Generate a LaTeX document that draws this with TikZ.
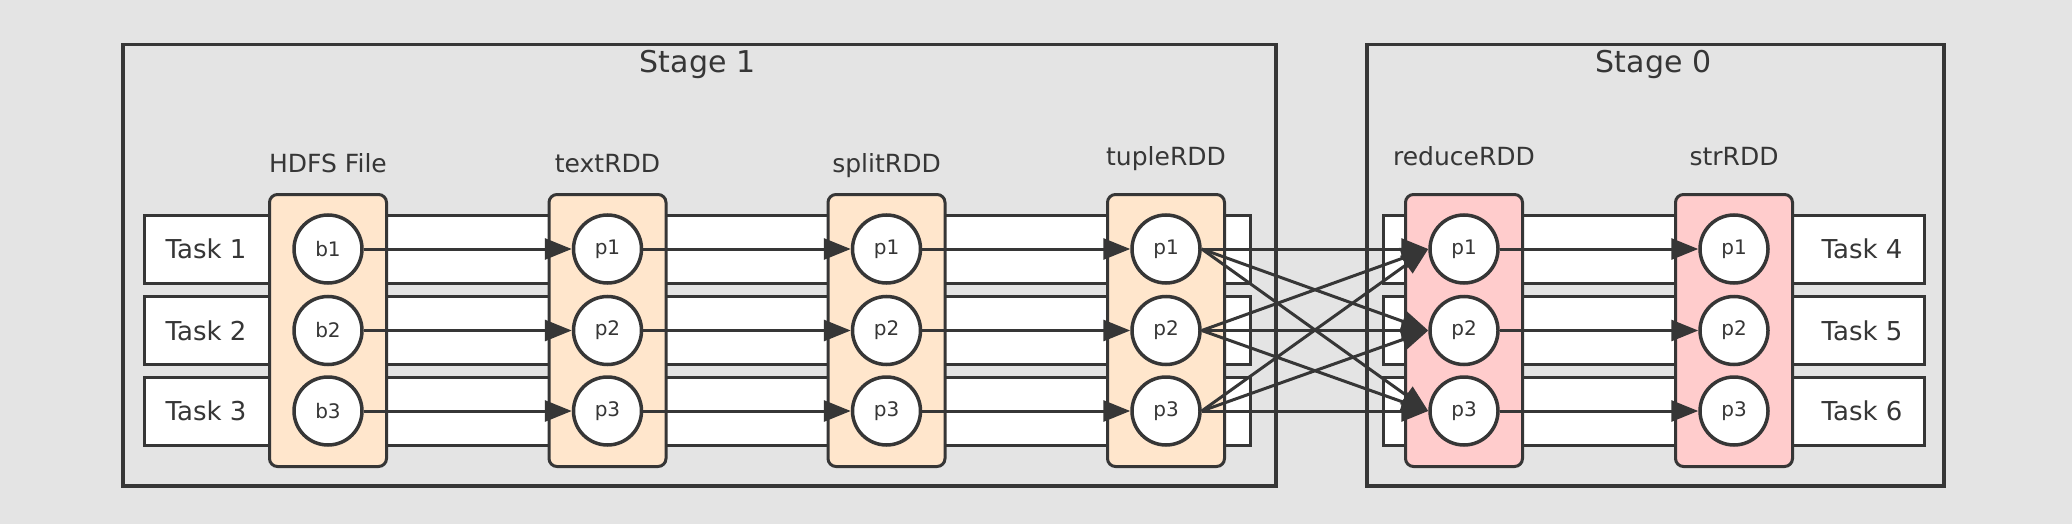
\documentclass[tikz,border=0pt]{standalone}
\usepackage{fontspec}
\setmainfont{DejaVu Sans}
\usetikzlibrary{arrows.meta}
\definecolor{bg}{HTML}{E4E4E4}
\definecolor{ln}{HTML}{363636}
\definecolor{peach}{HTML}{FFE6CC}
\definecolor{rose}{HTML}{FFCCCC}
\begin{document}
\begin{tikzpicture}[x=1pt,y=-1pt,
  stagebox/.style={draw=ln, line width=3.5pt, minimum height=441pt, inner sep=0pt, anchor=north west},
  rowbox/.style={draw=ln, fill=white, line width=3pt, minimum height=68pt, inner sep=0pt},
  rddbox/.style={draw=ln, line width=3pt, rounded corners=8pt, minimum width=117pt, minimum height=272pt, inner sep=0pt},
  part/.style={circle, draw=ln, fill=white, line width=3.5pt, minimum size=68pt, inner sep=0pt, font=\fontsize{20}{24}\selectfont, text=ln},
  title/.style={anchor=base, text=ln, font=\fontsize{30}{36}\selectfont},
  rddlabel/.style={anchor=base, text=ln, font=\fontsize{25}{30}\selectfont},
  tasklabel/.style={text=ln, font=\fontsize{26}{30}\selectfont},
  flow/.style={draw=ln, line width=3pt, -{Triangle[length=27pt,width=21pt]}}]
\fill[bg] (0,0) rectangle (2072,524);
\useasboundingbox (0,0) rectangle (2072,524);

% stages
\node[stagebox, minimum width=1153pt] (s1) at (121,43) {};
\node[stagebox, minimum width=577pt] (s0) at (1365,43) {};
\node[title] (s1t) at (697.5,73) {Stage 1};
\node[title] (s0t) at (1653.5,73) {Stage 0};

% task rows
\foreach \r/\y in {1/249,2/330.5,3/411}{
  \node[rowbox, minimum width=1105.5pt] (rowA\r) at (697.25,\y) {};
  \node[rowbox, minimum width=541.5pt] (rowB\r) at (1653.75,\y) {};
}
\node[tasklabel] (t1) at (206,249) {Task 1};
\node[tasklabel] (t2) at (206,330.5) {Task 2};
\node[tasklabel] (t3) at (206,411) {Task 3};
\node[tasklabel] (t4) at (1862,249) {Task 4};
\node[tasklabel] (t5) at (1862,330.5) {Task 5};
\node[tasklabel] (t6) at (1862,411) {Task 6};

% RDD boxes
\foreach \c/\x/\col in {0/328/peach,1/607.5/peach,2/886.5/peach,3/1166/peach,4/1464/rose,5/1734/rose}{
  \node[rddbox, fill=\col] (box\c) at (\x,330.5) {};
}
\node[rddlabel] (l0) at (328,172) {HDFS File};
\node[rddlabel] (l1) at (607.5,172) {textRDD};
\node[rddlabel] (l2) at (886.5,172) {splitRDD};
\node[rddlabel] (l3) at (1166,165) {tupleRDD};
\node[rddlabel] (l4) at (1464,165) {reduceRDD};
\node[rddlabel] (l5) at (1734,165) {strRDD};

% partitions
\foreach \r/\y in {1/249,2/330.5,3/411}{
  \node[part] (c0r\r) at (328,\y) {b\r};
  \foreach \c/\x in {1/607.5,2/886.5,3/1166,4/1464,5/1734}{
    \node[part] (c\c r\r) at (\x,\y) {p\r};
  }
}

% narrow dependencies
\foreach \c/\d in {0/1,1/2,2/3,4/5}{
  \foreach \r in {1,2,3}{
    \draw[flow] (c\c r\r.east) -- (c\d r\r.west);
  }
}
% shuffle
\foreach \r in {1,2,3}{
  \foreach \s in {1,2,3}{
    \draw[flow] (c3r\r.east) -- (c4r\s.west);
  }
}
\end{tikzpicture}
\end{document}
